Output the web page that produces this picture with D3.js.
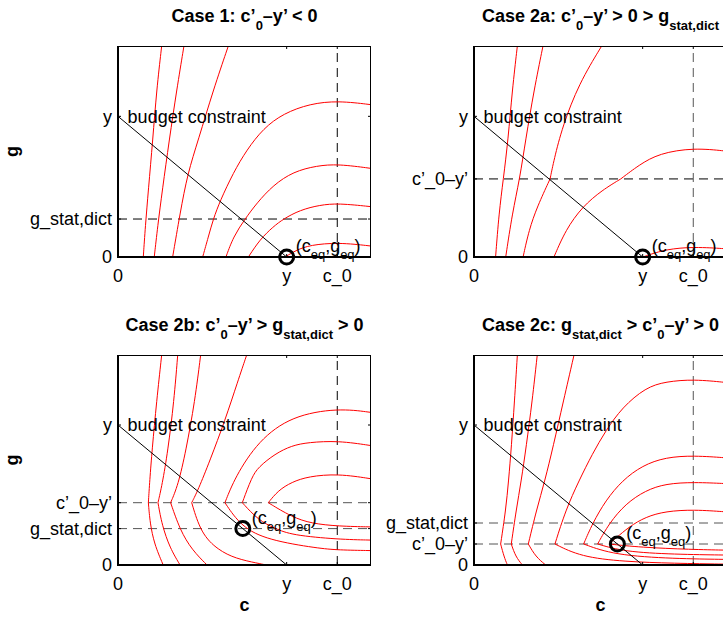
<!DOCTYPE html>
<html><head><meta charset="utf-8">
<script src="https://cdn.jsdelivr.net/npm/d3@7"></script>
<style>
body{margin:0;background:#fff;}
svg{display:block;}
text{font-family:"Liberation Sans",Arial,Helvetica,sans-serif;fill:#000;}
</style>
</head><body>
<svg id="chart" width="723" height="617"></svg>
<script>
// ---------- data ----------
const cTicks = [0, 1, 1.3];
const cTickLabels = ["0", "y", "c_0"];
const budgetY = 1;            // y (budget)
const c0 = 1.3;               // c_0
const gStat = [0.27, null, 0.26, 0.30];        // g_stat,dict per panel
const c0MinusY = [null, 0.555, 0.445, 0.15];   // c'_0 - y' per panel
const eqPoints = [[1, 0], [1, 0], [0.74, 0.26], [0.85, 0.15]];

const titles = [
  [["Case 1: c’", 0], ["0", 1], ["–y’ < 0", 0]],
  [["Case 2a: c’", 0], ["0", 1], ["–y’ > 0 > g", 0], ["stat,dict", 1]],
  [["Case 2b: c’", 0], ["0", 1], ["–y’ > g", 0], ["stat,dict", 1], [" > 0", 0]],
  [["Case 2c: g", 0], ["stat,dict", 1], [" > c’", 0], ["0", 1], ["–y’ > 0", 0]]
];

// indifference curves (c, g); a repeated point marks a kink
const curves1 = [
  [[0.259,1.5],[0.229,1.187],[0.206,0.832],[0.180,0.476],[0.162,0.216],[0.150,0]],
  [[0.391,1.5],[0.348,1.187],[0.304,0.832],[0.263,0.476],[0.235,0.216],[0.215,0]],
  [[0.654,1.5],[0.565,1.187],[0.476,0.832],[0.413,0.595],[0.368,0.310],[0.324,0]],
  [[0.502,0],[0.536,0.145],[0.565,0.270],[0.605,0.398],[0.684,0.600],[0.763,0.761],[0.862,0.915],[0.980,1.020],[1.138,1.090],[1.306,1.111],[1.5,1.083]],
  [[0.640,0],[0.684,0.145],[0.753,0.270],[0.822,0.382],[0.921,0.512],[1.040,0.607],[1.178,0.649],[1.306,0.661],[1.5,0.630]],
  [[0.773,0],[0.842,0.126],[0.921,0.216],[0.980,0.270],[1.079,0.334],[1.198,0.370],[1.306,0.382],[1.5,0.358]],
  [[0.990,0],[1.059,0.050],[1.138,0.085],[1.306,0.104],[1.5,0.078]]
];
const curves2 = [
  [[0.257,1.5],[0.227,1.187],[0.202,0.832],[0.174,0.555],[0.148,0.310],[0.128,0]],
  [[0.409,1.5],[0.356,1.187],[0.306,0.832],[0.271,0.555],[0.227,0.310],[0.188,0]],
  [[0.757,1.5],[0.623,1.235],[0.524,0.927],[0.474,0.690],[0.451,0.555],[0.451,0.555],[0.375,0.358],[0.326,0.192],[0.291,0]],
  [[0.474,0],[0.543,0.192],[0.642,0.358],[0.761,0.476],[0.870,0.555],[0.870,0.555],[0.978,0.654],[1.097,0.737],[1.304,0.777],[1.5,0.752]],
  [[1.0,0],[1.018,0.007],[1.136,0.055],[1.304,0.073],[1.5,0.058]]
];
const curves3 = [
  [[0.259,1.5],[0.229,1.17],[0.202,0.82],[0.188,0.60],[0.180,0.445],[0.180,0.445],[0.19,0.30],[0.215,0.15],[0.268,0]],
  [[0.354,1.5],[0.332,1.173],[0.296,0.817],[0.261,0.569],[0.237,0.445],[0.237,0.445],[0.261,0.284],[0.308,0.121],[0.368,0]],
  [[0.49,1.5],[0.456,1.173],[0.403,0.817],[0.356,0.569],[0.312,0.445],[0.312,0.445],[0.368,0.249],[0.439,0.107],[0.528,0]],
  [[0.763,1.5],[0.711,1.315],[0.634,1.031],[0.545,0.746],[0.474,0.533],[0.437,0.445],[0.437,0.445],[0.492,0.225],[0.593,0.107],[0.7,0.045],[0.83,0.012],[0.88,0]],
  [[1.5,1.09],[1.306,1.121],[1.03,1.066],[0.832,0.888],[0.694,0.628],[0.634,0.445],[0.634,0.445],[0.731,0.272],[0.889,0.178],[1.186,0.119],[1.306,0.107],[1.5,0.103]],
  [[1.5,0.853],[1.306,0.888],[1.128,0.876],[1.03,0.853],[0.931,0.794],[0.832,0.699],[0.793,0.628],[0.737,0.445],[0.737,0.445],[0.832,0.32],[0.931,0.261],[1.03,0.213],[1.306,0.183],[1.5,0.178]],
  [[1.5,0.616],[1.306,0.652],[1.128,0.633],[1.03,0.592],[0.95,0.533],[0.891,0.445],[0.891,0.445],[1.03,0.343],[1.148,0.296],[1.306,0.277],[1.5,0.272]]
];
const curves4 = [
  [[0.257,1.5],[0.24,1.17],[0.222,0.85],[0.205,0.6],[0.188,0.391],[0.158,0.15],[0.158,0.15],[0.178,0.059],[0.198,0]],
  [[0.375,1.5],[0.345,1.17],[0.31,0.85],[0.28,0.6],[0.25,0.391],[0.221,0.15],[0.221,0.15],[0.247,0.059],[0.287,0]],
  [[0.593,1.5],[0.53,1.17],[0.47,0.85],[0.42,0.6],[0.37,0.391],[0.322,0.15],[0.322,0.15],[0.366,0.059],[0.425,0]],
  [[1.5,1.303],[1.304,1.327],[1.136,1.31],[1.018,1.268],[0.879,1.126],[0.781,0.96],[0.702,0.794],[0.623,0.604],[0.543,0.391],[0.48,0.15],[0.48,0.15],[0.632,0.059],[0.889,0.024],[1.186,0.012],[1.5,0.006]],
  [[1.5,0.765],[1.304,0.782],[1.136,0.77],[0.998,0.711],[0.879,0.604],[0.781,0.462],[0.702,0.296],[0.65,0.15],[0.65,0.15],[0.83,0.071],[1.186,0.045],[1.5,0.04]],
  [[1.5,0.581],[1.304,0.592],[1.136,0.581],[1.018,0.533],[0.899,0.438],[0.8,0.296],[0.733,0.15],[0.733,0.15],[0.889,0.095],[1.186,0.076],[1.5,0.071]],
  [[1.5,0.379],[1.304,0.396],[1.136,0.384],[1.018,0.344],[0.919,0.273],[0.84,0.19],[0.8,0.15],[0.8,0.15],[0.988,0.126],[1.285,0.111],[1.5,0.106]]
];
const allCurves = [curves1, curves2, curves3, curves4];

// ---------- layout ----------
const panels = [
  {left: 118, top: 46, w: 253, h: 211, ylab: true,  xlab: false, dashH: "#000", dashV: "#000"},
  {left: 474, top: 46, w: 253, h: 211, ylab: false, xlab: false, dashH: "#000", dashV: "#555"},
  {left: 118, top: 355, w: 253, h: 210, ylab: true,  xlab: true,  dashH: "#555", dashV: "#000"},
  {left: 474, top: 355, w: 253, h: 210, ylab: false, xlab: true,  dashH: "#555", dashV: "#555"}
];
const FS = 18, SUB = 13;
const svg = d3.select("#chart");

// split a curve into smooth pieces at kinks (repeated points)
function pieces(pts) {
  const out = [[pts[0]]];
  for (let k = 1; k < pts.length; k++) {
    const a = pts[k - 1], b = pts[k];
    if (a[0] === b[0] && a[1] === b[1]) out.push([b]);
    else out[out.length - 1].push(b);
  }
  return out;
}

panels.forEach((p, i) => {
  const x = d3.scaleLinear().domain([0, 1.5]).range([p.left, p.left + p.w]);
  const y = d3.scaleLinear().domain([0, 1.5]).range([p.top + p.h, p.top]);
  const g = svg.append("g");
  const clipId = "clip" + i;
  svg.append("clipPath").attr("id", clipId).append("rect")
    .attr("x", p.left).attr("y", p.top).attr("width", p.w).attr("height", p.h);
  const plot = g.append("g").attr("clip-path", `url(#${clipId})`);

  // dashed reference lines
  const hLines = [gStat[i], c0MinusY[i]].filter(v => v !== null);
  hLines.forEach(v => {
    plot.append("line").attr("x1", x(0)).attr("x2", x(1.5)).attr("y1", y(v)).attr("y2", y(v))
      .attr("stroke", p.dashH).attr("stroke-width", 1).attr("stroke-dasharray", "9,6");
  });
  plot.append("line").attr("x1", x(c0)).attr("x2", x(c0)).attr("y1", y(0)).attr("y2", y(1.5))
    .attr("stroke", p.dashV).attr("stroke-width", 1).attr("stroke-dasharray", "9,6");

  // indifference curves
  const line = d3.line().x(d => x(d[0])).y(d => y(d[1])).curve(d3.curveBasis);
  allCurves[i].forEach(c => {
    const segs = pieces(c);
    plot.append("path").attr("d", segs.map(s => line(s)).join(""))
      .attr("fill", "none").attr("stroke", "#ff0000").attr("stroke-width", 1)
      .attr("stroke-linejoin", "miter");
  });

  // budget constraint
  plot.append("line").attr("x1", x(0)).attr("y1", y(budgetY)).attr("x2", x(budgetY)).attr("y2", y(0))
    .attr("stroke", "#000").attr("stroke-width", 1);

  // axes box
  g.append("line").attr("x1", p.left).attr("x2", p.left + p.w).attr("y1", p.top + 0.5).attr("y2", p.top + 0.5)
    .attr("stroke", "#000").attr("stroke-width", 1);
  g.append("line").attr("x1", p.left + p.w - 0.5).attr("x2", p.left + p.w - 0.5).attr("y1", p.top).attr("y2", p.top + p.h)
    .attr("stroke", "#000").attr("stroke-width", 1);
  g.append("line").attr("x1", p.left).attr("x2", p.left).attr("y1", p.top).attr("y2", p.top + p.h + 1)
    .attr("stroke", "#000").attr("stroke-width", 2);
  g.append("line").attr("x1", p.left - 1).attr("x2", p.left + p.w).attr("y1", p.top + p.h).attr("y2", p.top + p.h)
    .attr("stroke", "#000").attr("stroke-width", 2);

  // ticks
  const yTicks = [{v: 0, t: "0"}, {v: budgetY, t: "y"}];
  if (gStat[i] !== null) yTicks.push({v: gStat[i], t: "g_stat,dict"});
  if (c0MinusY[i] !== null) yTicks.push({v: c0MinusY[i], t: "c’_0–y’"});
  const TL = 3;
  cTicks.forEach(v => {
    g.append("line").attr("x1", x(v)).attr("x2", x(v)).attr("y1", p.top + p.h).attr("y2", p.top + p.h - TL).attr("stroke", "#000");
    g.append("line").attr("x1", x(v)).attr("x2", x(v)).attr("y1", p.top).attr("y2", p.top + TL).attr("stroke", "#000");
  });
  yTicks.forEach(d => {
    g.append("line").attr("x1", p.left).attr("x2", p.left + TL).attr("y1", y(d.v)).attr("y2", y(d.v)).attr("stroke", "#000");
    g.append("line").attr("x1", p.left + p.w).attr("x2", p.left + p.w - TL).attr("y1", y(d.v)).attr("y2", y(d.v)).attr("stroke", "#000");
  });
  // tick labels
  g.selectAll("text.xt").data(cTicks).enter().append("text").attr("class", "xt")
    .attr("x", d => x(d)).attr("y", p.top + p.h + 25).attr("text-anchor", "middle")
    .attr("font-size", FS).text((d, k) => cTickLabels[k]);
  g.selectAll("text.yt").data(yTicks).enter().append("text").attr("class", "yt")
    .attr("x", p.left - 6).attr("y", d => y(d.v)).attr("dy", "0.35em").attr("text-anchor", "end")
    .attr("font-size", FS).text(d => d.t);

  // budget constraint label
  g.append("text").attr("x", x(0.057)).attr("y", y(budgetY)).attr("dy", "0.35em")
    .attr("font-size", FS).text("budget constraint");

  // equilibrium marker and label
  const e = eqPoints[i];
  g.append("circle").attr("cx", x(e[0])).attr("cy", y(e[1])).attr("r", 7)
    .attr("fill", "none").attr("stroke", "#000").attr("stroke-width", 3);
  const lab = g.append("text").attr("x", x(e[0]) + 9).attr("y", y(e[1]) - 5).attr("font-size", FS);
  [["(c", 0], ["eq", 1], [",g", 0], ["eq", 1], [")", 0]].forEach(([s, sub], k, arr) => {
    const prev = k > 0 ? arr[k - 1][1] : 0;
    const dy = sub && !prev ? 7 : (!sub && prev ? -7 : 0);
    lab.append("tspan").attr("dy", dy).attr("font-size", sub ? SUB : FS).text(s);
  });

  // title
  const tt = g.append("text").attr("x", p.left + p.w / 2).attr("y", p.top - 24)
    .attr("text-anchor", "middle").attr("font-weight", "bold").attr("font-size", FS);
  titles[i].forEach(([s, sub], k, arr) => {
    const prev = k > 0 ? arr[k - 1][1] : 0;
    const dy = sub && !prev ? 8 : (!sub && prev ? -8 : 0);
    tt.append("tspan").attr("dy", dy).attr("font-size", sub ? SUB : FS).text(s);
  });

  // axis labels
  if (p.ylab) {
    g.append("text").attr("transform", `translate(18,${p.top + p.h / 2}) rotate(-90)`)
      .attr("text-anchor", "middle").attr("font-weight", "bold").attr("font-size", FS).text("g");
  }
  if (p.xlab) {
    g.append("text").attr("x", p.left + p.w / 2).attr("y", 611).attr("text-anchor", "middle")
      .attr("font-weight", "bold").attr("font-size", FS).text("c");
  }
});
</script>
</body></html>
